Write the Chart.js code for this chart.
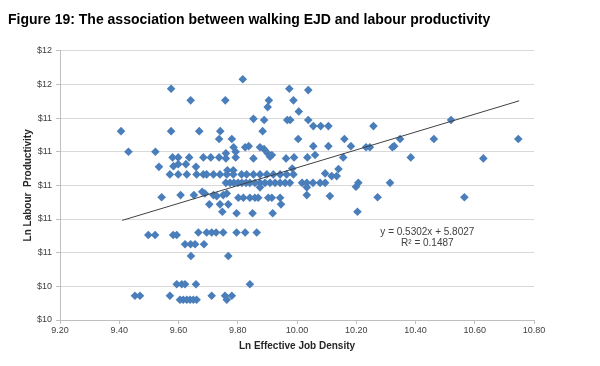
<!DOCTYPE html>
<html lang="en">
<head>
    <meta charset="UTF-8">
    <title>Figure 19 - Walking EJD and labour productivity</title>
    <script src="https://cdn.jsdelivr.net/npm/chart.js@4.4.3/dist/chart.umd.min.js"></script>
    <style>
        html, body { margin: 0; padding: 0; background: #fff; }
        .grafico { width: 600px; height: 366px; }
    </style>
</head>
<body>
    <div class="grafico"><canvas id="ejdChart"></canvas></div>
    <script>
        // Ln effective job density (x) and ln labour productivity (y), one line per row of points
        const ejd = [
            9.817,
            9.575, 9.974,
            10.038,
            9.641, 9.758, 9.905, 9.988,
            9.901,
            10.006,
            9.853,
            9.889, 9.967, 9.977, 10.038, 10.520,
            10.055, 10.080, 10.106, 10.258,
            9.406, 9.575, 9.670, 9.741, 9.884,
            9.737, 9.780, 10.004, 10.160, 10.348, 10.462, 10.747,
            9.837, 10.055, 10.106, 10.182, 10.328,
            9.786, 9.825, 9.875, 10.233, 10.246, 10.322,
            9.889, 9.431, 9.522, 9.793,
            9.760, 9.901, 9.915, 10.061, 9.909,
            9.580, 9.599, 9.636, 9.684, 9.709, 9.737, 9.793, 9.990, 10.035, 10.156, 10.384,
            9.760, 9.853, 9.963, 10.629,
            9.599, 9.625, 9.583, 9.534, 9.659, 9.984, 10.140,
            9.765, 9.785, 10.095, 10.134, 10.117,
            9.571, 9.599, 9.628, 9.661, 9.684, 9.695, 9.718, 9.740, 9.763, 9.785,
            9.813, 9.830, 9.853, 9.875, 9.898, 9.920, 9.943, 9.965, 9.988,
            9.760, 9.774, 9.787, 9.801, 9.814, 9.828, 9.841, 9.858, 9.875, 9.892, 9.909,
            9.926, 9.943, 9.960, 9.976, 10.017, 10.033, 10.054, 10.078, 10.095, 10.207, 10.314,
            10.199, 9.875, 10.033, 9.680, 9.689, 9.763,
            9.607, 9.652, 9.718, 9.751, 10.033, 9.729, 10.111,
            9.543, 10.272, 10.565,
            9.802, 9.819, 9.841, 9.858, 9.869, 9.903, 9.915, 9.943,
            9.704, 9.740, 9.768, 9.946,
            9.748, 10.204, 9.796, 9.850, 9.918,
            9.667, 9.695, 9.712, 9.727, 9.751, 9.796, 9.825, 9.864,
            9.498, 9.521, 9.582, 9.594,
            9.622, 9.641, 9.656, 9.686, 9.642, 9.768,
            9.594, 9.611, 9.622, 9.659, 9.841,
            9.453, 9.470, 9.571, 9.712, 9.757, 9.780,
            9.605, 9.616, 9.628, 9.639, 9.650, 9.661, 9.763
        ];
        const lnProd = [
            11.630,
            11.574, 11.574,
            11.566,
            11.505, 11.505, 11.505, 11.505,
            11.465,
            11.439,
            11.395,
            11.388, 11.388, 11.388, 11.388, 11.388,
            11.352, 11.352, 11.352, 11.352,
            11.322, 11.322, 11.322, 11.322, 11.322,
            11.275, 11.275, 11.275, 11.275, 11.275, 11.275, 11.275,
            11.233, 11.233, 11.233, 11.233, 11.233,
            11.226, 11.226, 11.226, 11.226, 11.226, 11.226,
            11.215, 11.200, 11.200, 11.200,
            11.190, 11.190, 11.180, 11.180, 11.170,
            11.166, 11.166, 11.166, 11.166, 11.166, 11.166, 11.166, 11.166, 11.166, 11.166, 11.166,
            11.160, 11.160, 11.160, 11.160,
            11.126, 11.126, 11.114, 11.110, 11.110, 11.100, 11.097,
            11.090, 11.090, 11.071, 11.055, 11.055,
            11.065, 11.065, 11.065, 11.065, 11.065, 11.065, 11.065, 11.065, 11.065, 11.065,
            11.065, 11.065, 11.065, 11.065, 11.065, 11.065, 11.065, 11.065, 11.065,
            11.015, 11.015, 11.015, 11.015, 11.015, 11.015, 11.015, 11.015, 11.015, 11.015, 11.015,
            11.015, 11.015, 11.015, 11.015, 11.015, 11.015, 11.015, 11.015, 11.015, 11.015, 11.015,
            10.992, 10.988, 10.988, 10.962, 10.952, 10.952,
            10.942, 10.942, 10.942, 10.942, 10.942, 10.936, 10.936,
            10.929, 10.929, 10.929,
            10.926, 10.926, 10.926, 10.926, 10.926, 10.926, 10.926, 10.926,
            10.887, 10.887, 10.887, 10.887,
            10.843, 10.843, 10.834, 10.834, 10.834,
            10.720, 10.720, 10.720, 10.720, 10.720, 10.720, 10.720, 10.720,
            10.705, 10.705, 10.705, 10.705,
            10.650, 10.650, 10.650, 10.650, 10.580, 10.580,
            10.412, 10.412, 10.412, 10.412, 10.412,
            10.344, 10.344, 10.344, 10.344, 10.344, 10.344,
            10.320, 10.320, 10.320, 10.320, 10.320, 10.320, 10.320
        ];

        // Linear trendline as printed on the chart
        const slope = 0.5302;
        const intercept = 5.8027;
        const rSquared = 0.1487;
        const trendRange = [9.41, 10.75];
        const eqnAt = [10.44, 10.724];

        const font = '"Liberation Sans", Arial, sans-serif';

        const eqnLabel = {
            id: 'eqnLabel',
            afterDatasetsDraw(chart) {
                const { ctx, scales: { x, y } } = chart;
                const cx = x.getPixelForValue(eqnAt[0]);
                const cy = y.getPixelForValue(eqnAt[1]);
                ctx.save();
                ctx.font = '10px ' + font;
                ctx.fillStyle = '#404040';
                ctx.textAlign = 'center';
                ctx.textBaseline = 'middle';
                ctx.fillText(`y = ${slope.toFixed(4)}x + ${intercept.toFixed(4)}`, cx, cy);
                ctx.fillText(`R² = ${rSquared.toFixed(4)}`, cx, cy + 11);
                ctx.restore();
            }
        };

        new Chart(document.getElementById('ejdChart'), {
            type: 'scatter',
            data: {
                datasets: [{
                    type: 'line',
                    data: trendRange.map(v => ({ x: v, y: slope * v + intercept })),
                    borderColor: '#404040',
                    borderWidth: 1,
                    pointRadius: 0,
                    fill: false
                }, {
                    data: ejd.map((v, i) => ({ x: v, y: lnProd[i] })),
                    pointStyle: 'rectRot',
                    pointRadius: 4.3,
                    backgroundColor: '#4a7ebb',
                    borderColor: '#4a7ebb',
                    borderWidth: 0
                }]
            },
            plugins: [eqnLabel],
            options: {
                responsive: true,
                maintainAspectRatio: false,
                animation: false,
                layout: { padding: { left: 8, right: 66, top: 0, bottom: 0 } },
                plugins: {
                    legend: { display: false },
                    tooltip: { enabled: false },
                    title: {
                        display: true,
                        text: 'Figure 19: The association between walking EJD and labour productivity',
                        align: 'start',
                        color: '#000',
                        font: { family: font, size: 14, weight: 'bold' },
                        padding: { top: 11.6, bottom: 22.3 }
                    }
                },
                scales: {
                    x: {
                        type: 'linear',
                        min: 9.2,
                        max: 10.8,
                        afterFit: s => { s.height = 46; },
                        ticks: {
                            stepSize: 0.2,
                            padding: 1,
                            color: '#404040',
                            font: { family: font, size: 9 },
                            callback: v => v.toFixed(2)
                        },
                        grid: { drawOnChartArea: false, tickLength: 4, color: '#bfbfbf' },
                        border: { color: '#bfbfbf' },
                        title: {
                            display: true,
                            text: 'Ln Effective Job Density',
                            color: '#262626',
                            font: { family: font, size: 10, weight: 'bold' },
                            padding: { top: 0, bottom: 13.4 }
                        }
                    },
                    y: {
                        min: 10.2,
                        max: 11.8,
                        afterFit: s => { s.width = 52; },
                        ticks: {
                            stepSize: 0.2,
                            padding: 4,
                            color: '#404040',
                            font: { family: font, size: 9 },
                            callback: v => '$' + Math.round(v)
                        },
                        grid: { color: '#d9d9d9', tickLength: 4, tickColor: '#bfbfbf' },
                        border: { color: '#bfbfbf' },
                        title: {
                            display: true,
                            text: 'Ln Labour  Productivity',
                            color: '#262626',
                            font: { family: font, size: 10, weight: 'bold' },
                            padding: { top: 14, bottom: 0 }
                        }
                    }
                }
            }
        });
    </script>
</body>
</html>
